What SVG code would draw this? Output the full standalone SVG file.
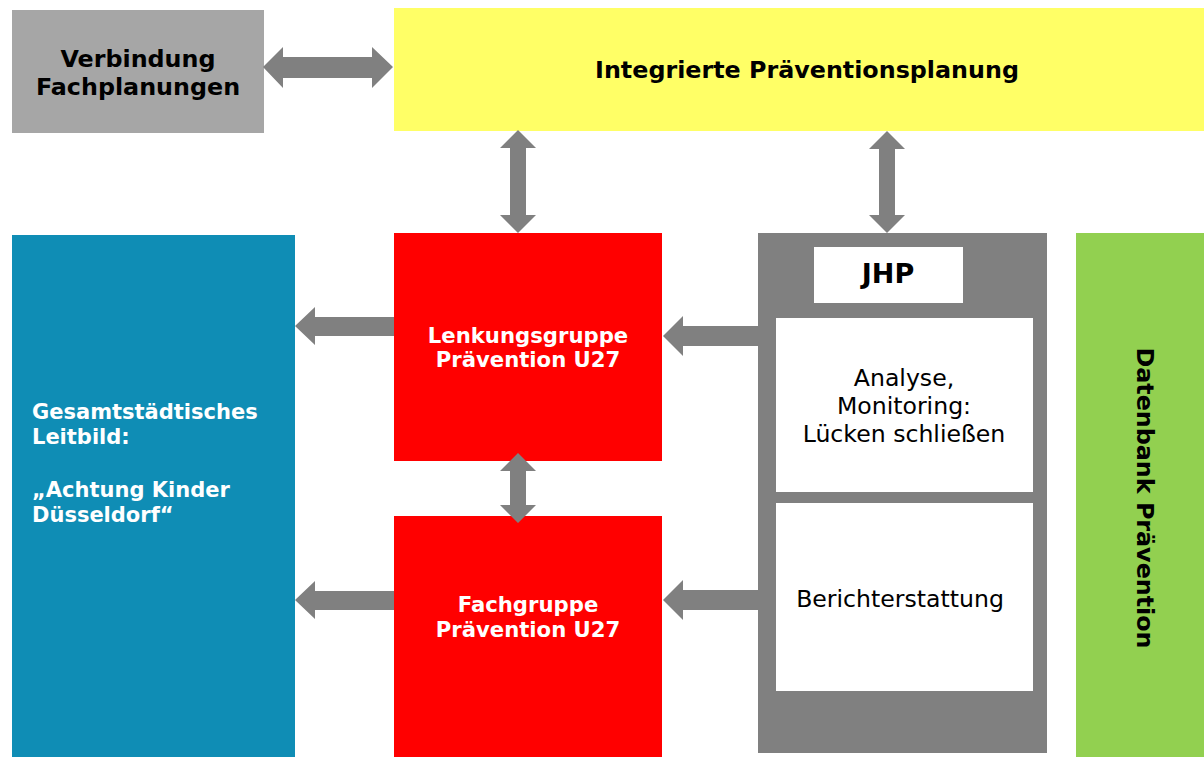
<svg xmlns="http://www.w3.org/2000/svg" width="1204" height="757" viewBox="0 0 1204 757">
<style>
text{font-family:"DejaVu Sans",Verdana,sans-serif}
.b{font-weight:bold}
.w{fill:#fff}
.k{fill:#000}
.arr{fill:#808080}
</style>
<rect width="1204" height="757" fill="#fff"/>
<g id="verbindung">
<rect x="12" y="10" width="252" height="123" fill="#a6a6a6"/>
<text class="b k" font-size="23.8" text-anchor="middle" x="138" y="67">Verbindung</text>
<text class="b k" font-size="23.8" text-anchor="middle" x="138" y="95">Fachplanungen</text>
</g>
<g id="integrierte">
<rect x="394" y="8" width="810" height="123" fill="#ffff66"/>
<text class="b k" font-size="23.8" text-anchor="middle" x="807" y="78">Integrierte Präventionsplanung</text>
</g>
<g id="leitbild">
<rect x="12" y="235" width="283" height="522" fill="#0f8db5"/>
<text class="b w" font-size="21" x="32" y="419">Gesamtstädtisches</text>
<text class="b w" font-size="21" x="32" y="444">Leitbild:</text>
<text class="b w" font-size="21" x="32" y="497">„Achtung Kinder</text>
<text class="b w" font-size="21" x="32" y="522">Düsseldorf“</text>
</g>
<g id="lenkungsgruppe">
<rect x="394" y="233" width="268" height="228" fill="#ff0000"/>
<text class="b w" font-size="21.2" text-anchor="middle" x="528" y="343">Lenkungsgruppe</text>
<text class="b w" font-size="21.2" text-anchor="middle" x="528" y="367">Prävention U27</text>
</g>
<g id="fachgruppe">
<rect x="394" y="516" width="268" height="241" fill="#ff0000"/>
<text class="b w" font-size="21.2" text-anchor="middle" x="528" y="612">Fachgruppe</text>
<text class="b w" font-size="21.2" text-anchor="middle" x="528" y="637">Prävention U27</text>
</g>
<g id="jhp">
<rect x="758" y="233" width="289" height="520" fill="#808080"/>
<rect x="814" y="247" width="149" height="56" fill="#fff"/>
<text class="b k" font-size="27" text-anchor="middle" x="888" y="283">JHP</text>
</g>
<g id="analyse">
<rect x="776" y="318" width="257" height="174" fill="#fff"/>
<text class="k" font-size="23.6" text-anchor="middle" x="904" y="386">Analyse,</text>
<text class="k" font-size="23.6" text-anchor="middle" x="904" y="414">Monitoring:</text>
<text class="k" font-size="23.6" text-anchor="middle" x="904" y="442">Lücken schließen</text>
</g>
<g id="bericht">
<rect x="776" y="503" width="257" height="188" fill="#fff"/>
<text class="k" font-size="23.6" text-anchor="middle" x="900" y="607">Berichterstattung</text>
</g>
<g id="datenbank">
<rect x="1076" y="233" width="128" height="524" fill="#92d050"/>
<text class="b k" font-size="23.8" text-anchor="middle" transform="translate(1137 498) rotate(90)">Datenbank Prävention</text>
</g>
<g id="connectors" class="arr">
<polygon points="263,67 283,47 283,57 372,57 372,47 393,67 372,88 372,78 283,78 283,88"/>
<polygon points="518,130 536,148 526,148 526,215 536,215 518,233 500,215 510,215 510,148 500,148"/>
<polygon points="887,131 905,149 895,149 895,215 905,215 887,233 869,215 879,215 879,149 869,149"/>
<polygon points="518,453 536,471 526,471 526,505 536,505 518,523 500,505 510,505 510,471 500,471"/>
<polygon points="295,326 315,307 315,317 394,317 394,336 315,336 315,345"/>
<polygon points="663,336 683,316 683,326 758,326 758,346 683,346 683,356"/>
<polygon points="295,600 315,581 315,591 394,591 394,610 315,610 315,619"/>
<polygon points="663,600 683,580 683,590 758,590 758,610 683,610 683,620"/>
</g>
</svg>
